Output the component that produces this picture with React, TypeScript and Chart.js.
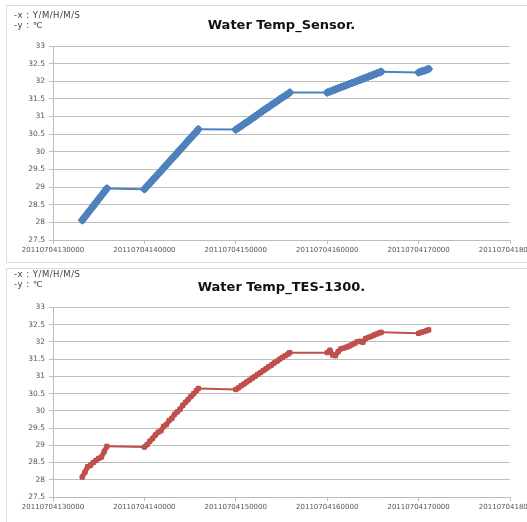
import React, { useEffect, useRef } from "react";
import { Chart, registerables } from "chart.js";

Chart.register(...registerables);

const xTicks = [
  20110704130000, 20110704140000, 20110704150000, 20110704160000, 20110704170000, 20110704180000,
];
const xTickLabels = [
  "20110704130000", "20110704140000", "20110704150000", "20110704160000", "20110704170000", "20110704180000",
];
const yTicks = [27.5, 28, 28.5, 29, 29.5, 30, 30.5, 31, 31.5, 32, 32.5, 33];
const yTickLabels = ["27.5", "28", "28.5", "29", "29.5", "30", "30.5", "31", "31.5", "32", "32.5", "33"];

const timeStamps = [
  20110704133200, 20110704133500, 20110704133800, 20110704134100, 20110704134400,
  20110704134700, 20110704135000, 20110704135300, 20110704135600, 20110704135900,
  20110704140000, 20110704140300, 20110704140600, 20110704140900, 20110704141200,
  20110704141500, 20110704141800, 20110704142100, 20110704142400, 20110704142700,
  20110704143000, 20110704143300, 20110704143600, 20110704143900, 20110704144200,
  20110704144500, 20110704144800, 20110704145100, 20110704145400, 20110704145700,
  20110704145900,
  20110704150000, 20110704150300, 20110704150600, 20110704150900, 20110704151200,
  20110704151500, 20110704151800, 20110704152100, 20110704152400, 20110704152700,
  20110704153000, 20110704153300, 20110704153600, 20110704153900, 20110704154200,
  20110704154500, 20110704154800, 20110704155100, 20110704155400, 20110704155700,
  20110704155900,
  20110704160000, 20110704160300, 20110704160600, 20110704160900, 20110704161200,
  20110704161500, 20110704161800, 20110704162100, 20110704162400, 20110704162700,
  20110704163000, 20110704163300, 20110704163600, 20110704163900, 20110704164200,
  20110704164500, 20110704164800, 20110704165100, 20110704165400, 20110704165700,
  20110704165900,
  20110704170000, 20110704170300, 20110704170600, 20110704170900, 20110704171100,
];

const sensorTemps = [
  28.06, 28.16, 28.26, 28.36, 28.46, 28.56, 28.66, 28.76, 28.86, 28.96,
  28.94, 29.03, 29.11, 29.2, 29.28, 29.37, 29.45, 29.54, 29.63, 29.71,
  29.8, 29.88, 29.97, 30.06, 30.14, 30.23, 30.32, 30.4, 30.49, 30.57, 30.64,
  30.63, 30.68, 30.73, 30.79, 30.84, 30.89, 30.95, 31.0, 31.06, 31.11,
  31.17, 31.22, 31.27, 31.33, 31.38, 31.43, 31.49, 31.54, 31.59, 31.64, 31.68,
  31.68, 31.71, 31.74, 31.77, 31.8, 31.83, 31.86, 31.89, 31.92, 31.95,
  31.98, 32.01, 32.04, 32.07, 32.1, 32.13, 32.16, 32.19, 32.22, 32.25, 32.27,
  32.25, 32.28, 32.3, 32.33, 32.35,
];

const tesTemps = [
  28.08, 28.22, 28.38, 28.42, 28.5, 28.56, 28.62, 28.66, 28.82, 28.97,
  28.95, 29.02, 29.12, 29.2, 29.3, 29.38, 29.42, 29.55, 29.6, 29.72,
  29.78, 29.9, 29.97, 30.05, 30.16, 30.25, 30.33, 30.42, 30.5, 30.59, 30.65,
  30.62, 30.67, 30.73, 30.78, 30.84, 30.89, 30.95, 31.0, 31.06, 31.11,
  31.17, 31.22, 31.28, 31.33, 31.39, 31.44, 31.5, 31.55, 31.6, 31.65, 31.69,
  31.69, 31.76, 31.62, 31.6, 31.72, 31.8, 31.82, 31.85, 31.88, 31.92,
  31.96, 32.01, 32.02, 31.99, 32.1, 32.13, 32.16, 32.2, 32.23, 32.26, 32.28,
  32.25, 32.28, 32.3, 32.33, 32.35,
];

const GRID = "#bdbdbd";
const TICK_COLOR = "#555555";

type PanelProps = {
  top: number;
  height: number;
  padTop: number;
  xAxisHeight: number;
  values: number[];
  color: string;
  pointStyle: string;
  pointRadius: number;
  lineWidth: number;
  denseWidth: number;
};

function ChartCanvas(p: PanelProps) {
  const ref = useRef<HTMLCanvasElement | null>(null);
  useEffect(() => {
    if (!ref.current) return;
    const chart = new Chart(ref.current, {
      type: "scatter",
      data: {
        datasets: [
          {
            data: timeStamps.map((t, i) => ({ x: t, y: p.values[i] })),
            showLine: true,
            borderColor: p.color,
            backgroundColor: p.color,
            borderWidth: p.lineWidth,
            borderJoinStyle: "round",
            borderCapStyle: "round",
            segment: {
              borderWidth: (ctx: any) =>
                Math.abs(ctx.p1.x - ctx.p0.x) < 12 ? p.denseWidth : p.lineWidth,
            },
            pointStyle: p.pointStyle as any,
            pointRadius: p.pointRadius,
            pointBorderWidth: 1,
            pointBorderColor: p.color,
            pointBackgroundColor: p.color,
            tension: 0,
          },
        ],
      },
      options: {
        animation: false,
        responsive: false,
        events: [],
        layout: { padding: { left: 0, top: p.padTop, right: 50, bottom: 0 } },
        plugins: {
          legend: { display: false },
          tooltip: { enabled: false },
          title: { display: false },
        },
        scales: {
          x: {
            type: "linear",
            min: xTicks[0],
            max: xTicks[xTicks.length - 1],
            afterBuildTicks: (s: any) => {
              s.ticks = xTicks.map((v) => ({ value: v }));
            },
            afterFit: (s: any) => {
              s.height = p.xAxisHeight;
            },
            grid: { drawOnChartArea: false, drawTicks: true, tickLength: 4, color: GRID },
            border: { color: GRID },
            ticks: {
              callback: (_v: any, i: number) => xTickLabels[i],
              font: { family: "DejaVu Sans", size: 7 },
              color: TICK_COLOR,
              padding: 2,
              maxRotation: 0,
              minRotation: 0,
              autoSkip: false,
            },
          },
          y: {
            type: "linear",
            min: yTicks[0],
            max: yTicks[yTicks.length - 1],
            afterBuildTicks: (s: any) => {
              s.ticks = yTicks.map((v) => ({ value: v }));
            },
            afterFit: (s: any) => {
              s.width = 53;
            },
            grid: { color: GRID, tickLength: 4 },
            border: { color: GRID },
            ticks: {
              callback: (_v: any, i: number) => yTickLabels[i],
              font: { family: "DejaVu Sans", size: 7.5 },
              color: TICK_COLOR,
              padding: 4,
            },
          },
        },
      } as any,
    });
    return () => chart.destroy();
  }, []);
  return (
    <canvas
      ref={ref}
      width={560}
      height={p.height}
      style={{ position: "absolute", left: 0, top: p.top, width: 560, height: p.height }}
    />
  );
}

const noteStyle: React.CSSProperties = {
  position: "absolute",
  left: 14,
  fontFamily: "DejaVu Sans",
  fontSize: 8.5,
  lineHeight: "9.5px",
  letterSpacing: "0.5px",
  color: "#404040",
  whiteSpace: "pre",
};

const titleStyle: React.CSSProperties = {
  position: "absolute",
  left: 131.5,
  width: 300,
  textAlign: "center",
  fontFamily: "DejaVu Sans",
  fontWeight: "bold",
  fontSize: 13,
  lineHeight: "16px",
  color: "#111",
  whiteSpace: "pre",
};

export default function App() {
  return (
    <div
      style={{
        position: "absolute",
        left: 0,
        top: 0,
        width: 527,
        height: 522,
        overflow: "hidden",
        background: "#ffffff",
      }}
    >
      <div style={{ position: "absolute", left: 6, top: 5, width: 620, height: 256, border: "1px solid #dcdcdc" }} />
      <div style={{ position: "absolute", left: 6, top: 268, width: 620, height: 300, border: "1px solid #dcdcdc" }} />

      <ChartCanvas
        top={0}
        height={262}
        padTop={46}
        xAxisHeight={22}
        values={sensorTemps}
        color="#4F81BD"
        pointStyle="rectRot"
        pointRadius={4}
        lineWidth={2}
        denseWidth={7}
      />
      <ChartCanvas
        top={262}
        height={260}
        padTop={45.5}
        xAxisHeight={25}
        values={tesTemps}
        color="#C0504D"
        pointStyle="rect"
        pointRadius={3}
        lineWidth={2}
        denseWidth={5}
      />

      <div style={{ ...noteStyle, top: 11 }}>{"-x : Y/M/H/M/S\n-y : ℃"}</div>
      <div style={{ ...noteStyle, top: 270 }}>{"-x : Y/M/H/M/S\n-y : ℃"}</div>

      <div style={{ ...titleStyle, top: 17 }}>Water Temp_Sensor.</div>
      <div style={{ ...titleStyle, top: 279 }}>Water Temp_TES-1300.</div>
    </div>
  );
}
